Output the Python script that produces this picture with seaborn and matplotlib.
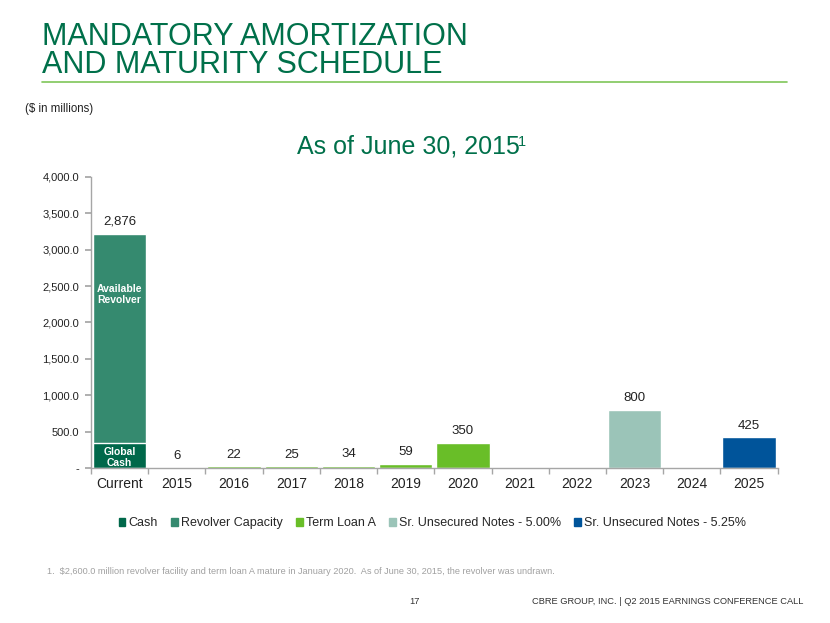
"""
Mandatory amortization and maturity schedule (CBRE Q2 2015 slide)
"""

import matplotlib
matplotlib.use("Agg")
import matplotlib.pyplot as plt
from matplotlib.patches import Patch
from matplotlib.ticker import FuncFormatter, FixedLocator
import pandas as pd
import seaborn as sns

# ---- data ($ in millions) ----
periods = ["Current", "2015", "2016", "2017", "2018", "2019",
           "2020", "2021", "2022", "2023", "2024", "2025"]

cash = {"Current": 346}
revolver = {"Current": 2876}
term_loan_a = {"2015": 6, "2016": 22, "2017": 25, "2018": 34,
               "2019": 59, "2020": 350}
notes_500 = {"2023": 800}
notes_525 = {"2025": 425}

bar_labels = {"Current": "2,876", "2015": "6", "2016": "22", "2017": "25",
              "2018": "34", "2019": "59", "2020": "350", "2023": "800",
              "2025": "425"}

series_names = ["Cash", "Revolver Capacity", "Term Loan A",
                "Sr. Unsecured Notes - 5.00%", "Sr. Unsecured Notes - 5.25%"]
colors = {"Cash": "#00684A",
          "Revolver Capacity": "#358A6F",
          "Term Loan A": "#69BE28",
          "Sr. Unsecured Notes - 5.00%": "#9BC4B8",
          "Sr. Unsecured Notes - 5.25%": "#00549A"}

GREEN = "#00704A"

# long table; stacked series carry their cumulative top
rows = []
for p, v in revolver.items():
    rows.append((p, "Revolver Capacity", cash.get(p, 0) + v))
for p, v in cash.items():
    rows.append((p, "Cash", v))
for p, v in term_loan_a.items():
    rows.append((p, "Term Loan A", v))
for p, v in notes_500.items():
    rows.append((p, "Sr. Unsecured Notes - 5.00%", v))
for p, v in notes_525.items():
    rows.append((p, "Sr. Unsecured Notes - 5.25%", v))
df = pd.DataFrame(rows, columns=["period", "series", "top"])

sns.set_theme(style="white")
plt.rcParams["font.family"] = ["Liberation Sans", "DejaVu Sans"]

fig = plt.figure(figsize=(8.3, 6.23), dpi=100)
ax = fig.add_axes([0.1096, 0.2488, 0.8274, 0.4672])

draw_order = ["Revolver Capacity", "Cash", "Term Loan A",
              "Sr. Unsecured Notes - 5.00%", "Sr. Unsecured Notes - 5.25%"]
sns.barplot(data=df, x="period", y="top", hue="series", order=periods,
            hue_order=draw_order, palette=colors, dodge=False, width=0.93,
            saturation=1, legend=False, ax=ax)

# value labels above each bar
tops = df.groupby("period")["top"].max()
for p, txt in bar_labels.items():
    ax.annotate(txt, (periods.index(p), tops[p]), xytext=(0, 4),
                textcoords="offset points", ha="center", va="bottom",
                fontsize=9.5, color="#222222")

# labels inside the current bar
ax.text(0, 2380, "Available\nRevolver", ha="center", va="center",
        color="white", fontsize=7.5, fontweight="bold", linespacing=1.1)
ax.text(0, 140, "Global\nCash", ha="center", va="center",
        color="white", fontsize=7.5, fontweight="bold", linespacing=1.1)

# axes styling
ax.set_ylim(0, 4000)
ax.set_xlim(-0.5, len(periods) - 0.5)
ax.yaxis.set_major_locator(FixedLocator(range(0, 4001, 500)))
ax.yaxis.set_major_formatter(
    FuncFormatter(lambda v, _: "-" if v == 0 else f"{v:,.1f}"))
ax.set_xlabel("")
ax.set_ylabel("")
for side in ["top", "right"]:
    ax.spines[side].set_visible(False)
for side in ["left", "bottom"]:
    ax.spines[side].set_color("#A6A6A6")
    ax.spines[side].set_linewidth(1)
ax.tick_params(axis="y", left=True, length=4, color="#A6A6A6",
               labelsize=8, labelcolor="#222222", pad=4.5)
ax.tick_params(axis="x", bottom=False, length=0, labelsize=10,
               labelcolor="#222222", pad=6.5)
ax.xaxis.set_minor_locator(FixedLocator([i + 0.5 for i in range(-1, len(periods))]))
ax.tick_params(axis="x", which="minor", bottom=True, length=4,
               color="#A6A6A6", width=1)

# legend
handles = [Patch(color=colors[s], label=s) for s in series_names]
fig.legend(handles=handles, loc="center", bbox_to_anchor=(0.521, 0.160),
           ncol=5, frameon=False, fontsize=9, handlelength=0.55,
           handleheight=0.55, handletextpad=0.25, columnspacing=1.05)

# slide texts
fig.text(0.0506, 0.928, "MANDATORY AMORTIZATION", ha="left",
         va="baseline", fontsize=22, color=GREEN)
fig.text(0.0506, 0.883, "AND MATURITY SCHEDULE", ha="left",
         va="baseline", fontsize=22, color=GREEN)
fig.add_artist(plt.Line2D([0.0506, 0.948], [0.868, 0.868],
                          color="#7FC659", linewidth=1.2))
fig.text(0.030, 0.825, "($ in millions)", ha="left", va="center",
         fontsize=8.3, color="#222222")

sub = fig.text(0.3578, 0.7544, "As of June 30, 2015", ha="left",
               va="baseline", fontsize=18, color=GREEN)
fig.canvas.draw()
bb = sub.get_window_extent().transformed(fig.transFigure.inverted())
fig.text(bb.x1 - 0.002, 1 - 135 / 623, "1", ha="left", va="top",
         fontsize=10.5, color=GREEN)

fig.text(0.0566, 0.082,
         "1.  $2,600.0 million revolver facility and term loan A mature in "
         "January 2020.  As of June 30, 2015, the revolver was undrawn.",
         ha="left", va="center", fontsize=6.6, color="#A0A0A0")
fig.text(0.499, 0.035, "17", ha="center", va="center", fontsize=6.7,
         color="#333333")
fig.text(0.9675, 0.035, "CBRE GROUP, INC. | Q2 2015 EARNINGS CONFERENCE CALL",
         ha="right", va="center", fontsize=6.7, color="#333333")

fig.savefig("out.png", dpi=100)
